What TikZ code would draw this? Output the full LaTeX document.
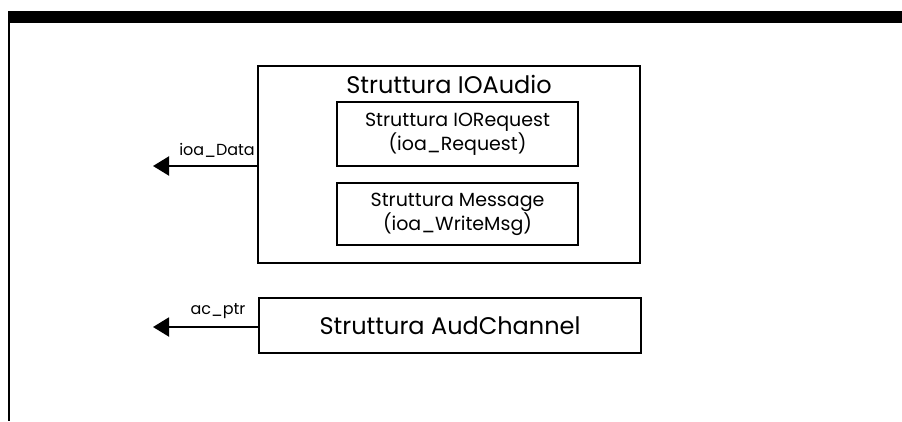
\documentclass[tikz,border=0pt]{standalone}
\usepackage{fontspec}
\setmainfont{Poppins}
\usetikzlibrary{arrows.meta}
\begin{document}
\begin{tikzpicture}[x=1pt,y=-1pt,
  box/.style={draw, line width=2pt, inner sep=0pt, align=center},
  ptr/.style={-{Triangle[length=16pt,width=19pt]}, line width=2pt},
  lbl/.style={font=\fontsize{16}{18}\selectfont, inner sep=0pt},
  bigtxt/.style={font=\fontsize{24}{26}\selectfont},
  midtxt/.style={font=\fontsize{19}{19}\selectfont}]
\useasboundingbox (0,0) rectangle (902,421);
\fill (8,10.5) rectangle (902,23);
\draw[line width=1.5pt] (9,23) -- (9,421);
% IOAudio structure
\node[box, minimum width=382pt, minimum height=197pt] (ioaudio) at (449,164.5) {};
\node[bigtxt, inner sep=0pt] (title) at (449,84) {Struttura IOAudio};
\node[box, midtxt, minimum width=241pt, minimum height=64pt] (req) at (457.5,134) {Struttura IORequest\\(ioa\_Request)};
\node[box, midtxt, minimum width=241pt, minimum height=62pt] (msg) at (457.5,214) {Struttura Message\\(ioa\_WriteMsg)};
\coordinate (dataend) at (153,166);
\draw[ptr] (ioaudio.west |- dataend) -- (dataend);
\node[lbl, anchor=east] (datalbl) at (255,150) {ioa\_Data};
% AudChannel structure
\node[box, bigtxt, minimum width=382pt, minimum height=55pt] (aud) at (450,325.5) {Struttura AudChannel};
\coordinate (ptrend) at (153,327);
\draw[ptr] (aud.west |- ptrend) -- (ptrend);
\node[lbl] (ptrlbl) at (218,311) {ac\_ptr};
\end{tikzpicture}
\end{document}
